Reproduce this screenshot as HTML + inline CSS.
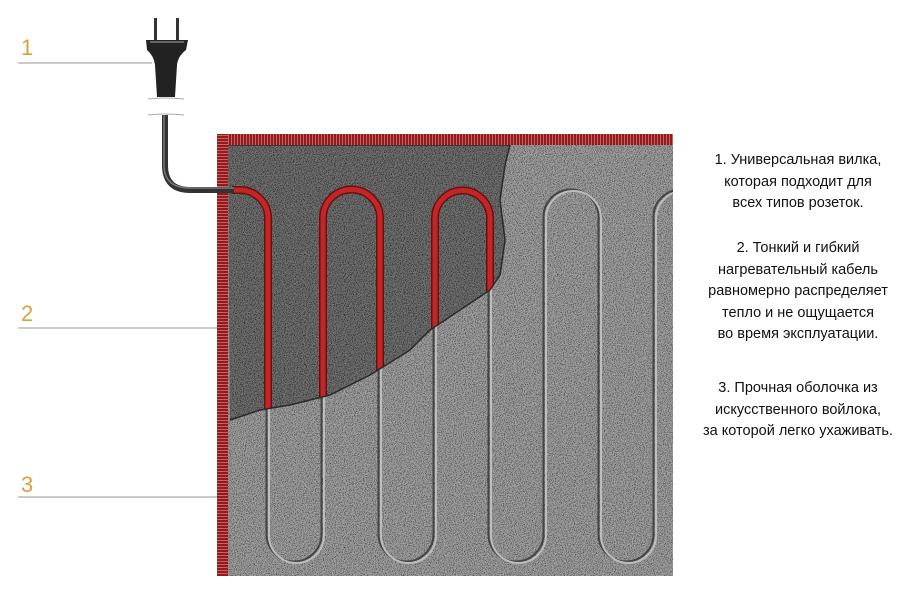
<!DOCTYPE html>
<html><head><meta charset="utf-8"><style>
body{margin:0;background:#fff;width:912px;height:596px;overflow:hidden;font-family:"Liberation Sans",sans-serif}
.t{position:absolute;left:676px;width:244px;text-align:center;font-size:14.5px;line-height:21.5px;color:#111}
</style></head><body>
<svg width="912" height="596" style="position:absolute;left:0;top:0">
<defs>
<filter id="n" x="0" y="0" width="100%" height="100%"><feTurbulence type="fractalNoise" baseFrequency="1.1" numOctaves="2" seed="3"/><feColorMatrix type="matrix" values="3 0 0 0 -1  3 0 0 0 -1  3 0 0 0 -1  0 0 0 0 1"/></filter>
<pattern id="st" width="3" height="3" patternUnits="userSpaceOnUse"><rect width="3" height="3" fill="#8e1c1c"/><rect width="1" height="3" fill="#d06060"/></pattern>
<pattern id="st2" width="3" height="3" patternUnits="userSpaceOnUse"><rect width="3" height="3" fill="#8e1c1c"/><rect width="3" height="1" fill="#d06060"/></pattern>
<clipPath id="dk"><path d="M228 145 L510 145 L505 165 L500 200 L505 240 L500 275 L490 290 L460 310 L430 330 L410 350 L370 375 L330 395 L290 405 L260 410 L230 420 Z"/></clipPath>
<clipPath id="mat"><rect x="228" y="145" width="445" height="431"/></clipPath>
</defs>
<g fill="#d8a23a" font-size="22" font-family="Liberation Sans"><text x="21" y="55">1</text><text x="21" y="321">2</text><text x="21" y="492">3</text></g>
<g stroke="#999" stroke-width="1"><line x1="18" y1="63" x2="152" y2="63"/><line x1="18" y1="328" x2="270" y2="328"/><line x1="18" y1="497" x2="217" y2="497"/></g>
<rect x="228" y="145" width="445" height="431" fill="#787878"/>
<rect x="228" y="145" width="445" height="431" filter="url(#n)" opacity="0.36"/>
<g clip-path="url(#mat)" fill="none">
<path d="M268 400 V535 A27.5 27.5 0 0 0 323 535 V218 A28.5 28.5 0 0 1 380 218 V535 A27.5 27.5 0 0 0 435 535 V218 A27.5 27.5 0 0 1 490 218 V535 A27.5 27.5 0 0 0 545 535 V218 A27.5 27.5 0 0 1 600 218 V535 A27.5 27.5 0 0 0 655 535 V218 A27.5 27.5 0 0 1 710 218" stroke="#454545" stroke-width="2" transform="translate(-1.5,-1)"/>
<path d="M268 400 V535 A27.5 27.5 0 0 0 323 535 V218 A28.5 28.5 0 0 1 380 218 V535 A27.5 27.5 0 0 0 435 535 V218 A27.5 27.5 0 0 1 490 218 V535 A27.5 27.5 0 0 0 545 535 V218 A27.5 27.5 0 0 1 600 218 V535 A27.5 27.5 0 0 0 655 535 V218 A27.5 27.5 0 0 1 710 218" stroke="#bdbdbd" stroke-width="2" transform="translate(1,0.5)"/>
</g>
<g clip-path="url(#dk)">
<rect x="228" y="145" width="300" height="280" fill="#3e3e3e"/>
<rect x="228" y="145" width="300" height="280" filter="url(#n)" opacity="0.3"/>
<path d="M232 190 H240 A28 28 0 0 1 268 218 V440 M323 440 V218 A28.5 28.5 0 0 1 380 218 V440 M435 440 V218 A27.5 27.5 0 0 1 490 218 V440" fill="none" stroke="#6a1010" stroke-width="8"/>
<path d="M232 190 H240 A28 28 0 0 1 268 218 V440 M323 440 V218 A28.5 28.5 0 0 1 380 218 V440 M435 440 V218 A27.5 27.5 0 0 1 490 218 V440" fill="none" stroke="#c42626" stroke-width="5"/>
</g>
<path d="M228 145 L510 145 L505 165 L500 200 L505 240 L500 275 L490 290 L460 310 L430 330 L410 350 L370 375 L330 395 L290 405 L260 410 L230 420" fill="none" stroke="#2a2a2a" stroke-width="1.5"/>
<rect x="217" y="134" width="456" height="11" fill="url(#st)"/>
<rect x="217" y="134" width="11" height="442" fill="url(#st2)"/>
<path d="M165 115 V165 Q165 190 190 190 H234" fill="none" stroke="#333" stroke-width="6"/>
<path d="M164 115 V165 Q164 188 190 188 H234" fill="none" stroke="#777" stroke-width="1.5"/>
<path d="M148 99 Q165 97 184 99 M148 115 Q165 113 184 115" stroke="#aaa" fill="none"/>
<rect x="154" y="18" width="3" height="24" fill="#333"/><rect x="176" y="18" width="3" height="24" fill="#333"/>
<path d="M146 40 H188 L186 50 Q178 56 177 65 L175 97 H157 L155 65 Q154 56 147 50 Z" fill="#222"/>
<path d="M150 42 H184" stroke="#666" stroke-width="2"/>
</svg>
<div class="t" style="top:150px">1. Универсальная вилка,<br>которая подходит для<br>всех типов розеток.</div>
<div class="t" style="top:238px">2. Тонкий и гибкий<br>нагревательный кабель<br>равномерно распределяет<br>тепло и не ощущается<br>во время эксплуатации.</div>
<div class="t" style="top:378px">3. Прочная оболочка из<br>искусственного войлока,<br>за которой легко ухаживать.</div>
</body></html>
